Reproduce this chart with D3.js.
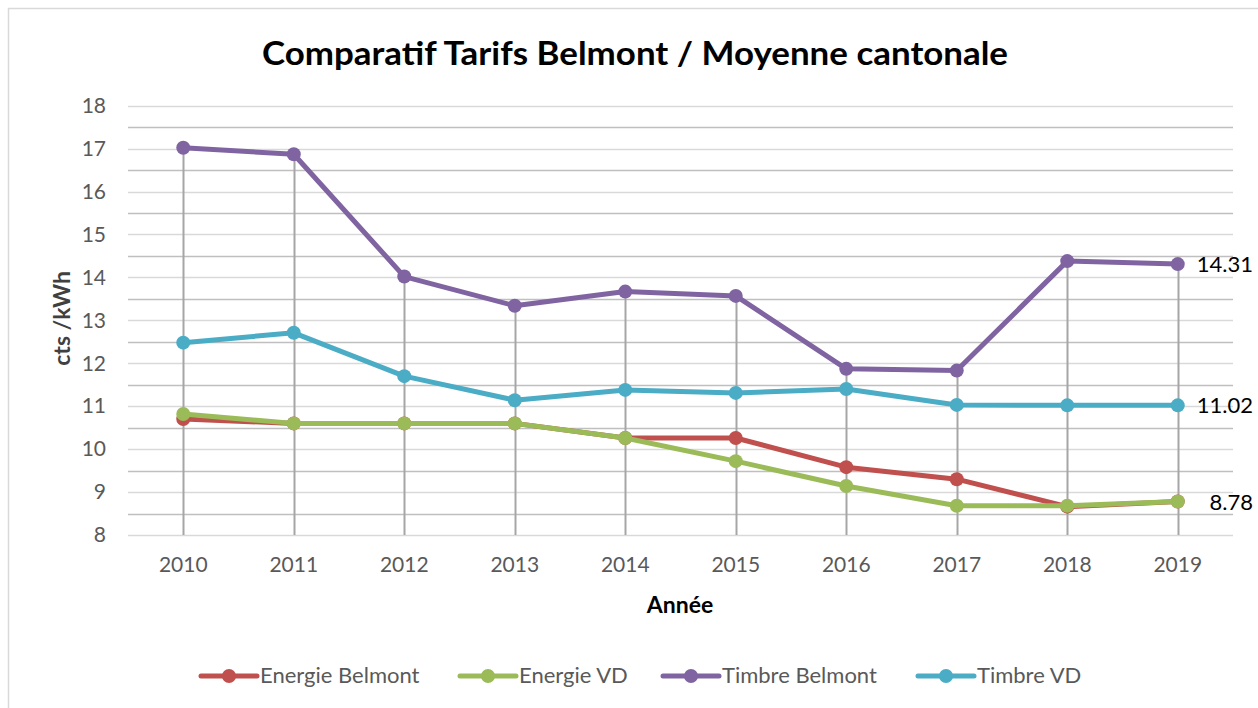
<!DOCTYPE html>
<html>
<head>
<meta charset="utf-8">
<script src="https://cdn.jsdelivr.net/npm/d3@7"></script>
<style>
  html, body { margin: 0; padding: 0; background: #fff; }
  svg { display: block; font-family: Lato, "Open Sans", sans-serif; }
</style>
</head>
<body>
<script>
// Years on the category axis
const years = ["2010", "2011", "2012", "2013", "2014", "2015", "2016", "2017", "2018", "2019"];

// Series values (cts / kWh)
const energieBelmont = [10.70, 10.60, 10.60, 10.60, 10.26, 10.26, 9.58, 9.30, 8.66, 8.78];
const energieVD      = [10.82, 10.60, 10.60, 10.60, 10.26, 9.72, 9.14, 8.68, 8.68, 8.78];
const timbreBelmont  = [17.02, 16.87, 14.02, 13.34, 13.67, 13.57, 11.87, 11.83, 14.38, 14.31];
const timbreVD       = [12.48, 12.71, 11.70, 11.14, 11.38, 11.31, 11.40, 11.03, 11.02, 11.02];

const seriesNames = ["Energie Belmont", "Energie VD", "Timbre Belmont", "Timbre VD"];
const seriesColors = ["#c0504d", "#9bbb59", "#8064a2", "#4bacc6"];
const seriesValues = [energieBelmont, energieVD, timbreBelmont, timbreVD];

// Y ticks
const yTicks = [8, 9, 10, 11, 12, 13, 14, 15, 16, 17, 18];
const yMinor = [8.5, 9.5, 10.5, 11.5, 12.5, 13.5, 14.5, 15.5, 16.5, 17.5];

// Data labels shown on the last point
const lastLabels = [
  { series: 2, text: "14.31" },
  { series: 3, text: "11.02" },
  { series: 1, text: "8.78" }
];

const width = 1258;
const height = 708;
const plotLeft = 128;
const plotRight = 1233;
const plotTop = 105.7;
const plotBottom = 535;

const x = d3.scaleBand().domain(years).range([plotLeft, plotRight]);
const xc = (d) => x(d) + x.bandwidth() / 2;
const y = d3.scaleLinear().domain([8, 18]).range([plotBottom, plotTop]);

const svg = d3.select("body").append("svg")
  .attr("width", width)
  .attr("height", height)
  .attr("viewBox", [0, 0, width, height]);

// chart frame (partially outside the window)
svg.append("rect")
  .attr("x", 8.5).attr("y", 8.5)
  .attr("width", 1300).attr("height", 800)
  .attr("fill", "#fff")
  .attr("stroke", "#d9d9d9")
  .attr("stroke-width", 1.5);

// Title
svg.append("text")
  .attr("x", 635).attr("y", 65)
  .attr("text-anchor", "middle")
  .attr("textLength", 746)
  .attr("lengthAdjust", "spacingAndGlyphs")
  .style("font-size", "33px")
  .style("font-weight", "bold")
  .attr("fill", "#000")
  .text("Comparatif Tarifs Belmont / Moyenne cantonale");

// Gridlines: integer lines light, half lines a bit darker
svg.append("g")
  .selectAll("line")
  .data(yMinor)
  .join("line")
  .attr("x1", plotLeft).attr("x2", plotRight)
  .attr("y1", (d) => Math.round(y(d)) + 0.5)
  .attr("y2", (d) => Math.round(y(d)) + 0.5)
  .attr("stroke", "#bfbfbf")
  .attr("stroke-width", 1.5);

svg.append("g")
  .selectAll("line")
  .data(yTicks)
  .join("line")
  .attr("x1", plotLeft).attr("x2", plotRight)
  .attr("y1", (d) => Math.round(y(d)) + 0.5)
  .attr("y2", (d) => Math.round(y(d)) + 0.5)
  .attr("stroke", "#d9d9d9")
  .attr("stroke-width", 1.5);

// Y axis labels
const yAxis = d3.axisLeft(y).tickValues(yTicks).tickSize(0).tickPadding(0).tickFormat(d3.format("d"));
svg.append("g")
  .attr("transform", `translate(106,0)`)
  .call(yAxis)
  .call((g) => g.select(".domain").remove())
  .selectAll("text")
  .style("font-size", "21px")
  .style("font-family", "Lato, 'Open Sans', sans-serif")
  .attr("fill", "#595959");

// X axis labels
const xAxis = d3.axisBottom(x).tickSize(0).tickPadding(0);
svg.append("g")
  .attr("transform", `translate(0,${plotBottom + 22})`)
  .call(xAxis)
  .call((g) => g.select(".domain").remove())
  .selectAll("text")
  .style("font-size", "21px")
  .style("font-family", "Lato, 'Open Sans', sans-serif")
  .attr("fill", "#595959");

// Axis titles
svg.append("text")
  .attr("transform", `translate(70,${(plotTop + plotBottom) / 2 - 2}) rotate(-90)`)
  .attr("text-anchor", "middle")
  .style("font-size", "23px")
  .style("font-weight", "bold")
  .attr("fill", "#404040")
  .text("cts /kWh");

svg.append("text")
  .attr("x", 680).attr("y", 613)
  .attr("text-anchor", "middle")
  .style("font-size", "23px")
  .style("font-weight", "bold")
  .attr("fill", "#000")
  .text("Année");

// Drop lines from highest point to the axis
const topValues = years.map((yr, i) => d3.max(seriesValues, (s) => s[i]));
svg.append("g")
  .selectAll("line")
  .data(years)
  .join("line")
  .attr("x1", (d) => Math.round(xc(d)) + 0.5)
  .attr("x2", (d) => Math.round(xc(d)) + 0.5)
  .attr("y1", (d, i) => y(topValues[i]))
  .attr("y2", plotBottom)
  .attr("stroke", "#a6a6a6")
  .attr("stroke-width", 2);

// Lines and markers
const line = d3.line().x((d, i) => xc(years[i])).y((d) => y(d));
seriesValues.forEach((vals, k) => {
  const g = svg.append("g");
  g.append("path")
    .datum(vals)
    .attr("d", line)
    .attr("fill", "none")
    .attr("stroke", seriesColors[k])
    .attr("stroke-width", 5)
    .attr("stroke-linejoin", "round");
  g.selectAll("circle")
    .data(vals)
    .join("circle")
    .attr("cx", (d, i) => xc(years[i]))
    .attr("cy", (d) => y(d))
    .attr("r", 7)
    .attr("fill", seriesColors[k]);
});

// Data labels on last year
svg.append("g")
  .selectAll("text")
  .data(lastLabels)
  .join("text")
  .attr("x", 1253)
  .attr("y", (d) => y(seriesValues[d.series][years.length - 1]) + 8)
  .attr("text-anchor", "end")
  .style("font-size", "22px")
  .attr("fill", "#000")
  .text((d) => d.text);

// Legend
const legendX = [201, 460, 663, 918];
const legend = svg.append("g");
seriesNames.forEach((name, k) => {
  const lx = legendX[k];
  legend.append("line")
    .attr("x1", lx).attr("x2", lx + 56)
    .attr("y1", 676).attr("y2", 676)
    .attr("stroke", seriesColors[k])
    .attr("stroke-width", 5)
    .attr("stroke-linecap", "round");
  legend.append("circle")
    .attr("cx", lx + 28).attr("cy", 676)
    .attr("r", 7)
    .attr("fill", seriesColors[k]);
  legend.append("text")
    .attr("x", lx + 59).attr("y", 683)
    .style("font-size", "22px")
    .attr("fill", "#595959")
    .text(name);
});
</script>
</body>
</html>
